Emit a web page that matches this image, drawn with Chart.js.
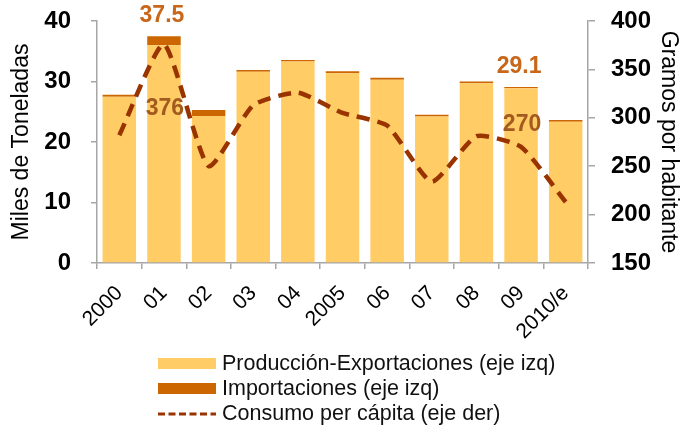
<!DOCTYPE html>
<html>
<head>
<meta charset="utf-8">
<script src="https://cdn.jsdelivr.net/npm/chart.js@4.4.0/dist/chart.umd.min.js"></script>
<style>
  body { margin: 0; background: #fff; }
  #wrap { position: relative; width: 680px; height: 429px; font-family: "Liberation Sans", Arial, sans-serif; }
  #legend { position: absolute; left: 158px; top: 351px; font-size: 21.5px; color: #111; }
  .row { display: flex; align-items: center; height: 25px; }
  .sw { width: 58px; height: 11px; margin-right: 6px; }
</style>
</head>
<body>
<div id="wrap">
  <canvas id="chart" width="680" height="429"></canvas>
  <div id="legend"></div>
</div>
<script>
let years = ["2000", "01", "02", "03", "04", "2005", "06", "07", "08", "09", "2010/e"];
let produccion = [27.5, 36.0, 24.3, 31.6, 33.3, 31.35, 30.3, 24.2, 29.7, 28.9, 23.35];
let importaciones = [0.3, 1.5, 1.0, 0.3, 0.25, 0.35, 0.3, 0.3, 0.3, 0.2, 0.3];
let consumo = [282, 376, 250, 313, 326, 305, 292, 234, 281, 270, 213];
let leftTicks = [0, 10, 20, 30, 40];
let rightTicks = [150, 200, 250, 300, 350, 400];

let labelsLeft = [{ i: 1, text: "37.5" }, { i: 9, text: "29.1" }];
let labelsRight = [{ i: 1, text: "376", dy: 64 }, { i: 9, text: "270", dy: -22 }];

let font = "'Liberation Sans', Arial, sans-serif";

let valueLabels = {
   id: "valueLabels",
   afterDatasetsDraw(chart) {
      let c = chart.ctx;
      let x = chart.scales.x, yl = chart.scales.y, yr = chart.scales.y2;
      c.save();
      c.font = "bold 23px " + font;
      c.textAlign = "center";
      c.textBaseline = "middle";
      c.fillStyle = "#C8661A";
      labelsLeft.forEach(l => {
         let total = produccion[l.i] + importaciones[l.i];
         c.fillText(l.text, x.getPixelForValue(l.i) - 2, yl.getPixelForValue(total) - 20);
      });
      c.fillStyle = "#A35A1F";
      labelsRight.forEach(l => {
         c.fillText(l.text, x.getPixelForValue(l.i) + 1, yr.getPixelForValue(consumo[l.i]) + l.dy);
      });
      c.restore();
   }
};

// keep the plot area fixed: drop the extra top/bottom padding Chart.js adds for tick labels
let fitY = width => s => { s.width = width; s.paddingTop = 0; s.paddingBottom = 0; };

let ctx = document.getElementById("chart").getContext("2d");
let chart = new Chart(ctx, {
   type: "bar",
   data: {
      labels: years,
      datasets: [
         {
            type: "line",
            label: "Consumo per cápita (eje der)",
            data: consumo,
            yAxisID: "y2",
            borderColor: "#993300",
            borderWidth: 4.5,
            borderDash: [13, 8],
            pointRadius: 0,
            tension: 0.18,
            fill: false,
            order: 0
         },
         {
            label: "Producción-Exportaciones (eje izq)",
            data: produccion,
            backgroundColor: "#FFCC66",
            yAxisID: "y",
            stack: "s",
            order: 1
         },
         {
            label: "Importaciones (eje izq)",
            data: importaciones,
            backgroundColor: "#CC6600",
            yAxisID: "y",
            stack: "s",
            order: 1
         }
      ]
   },
   options: {
      responsive: false,
      animation: false,
      devicePixelRatio: 1,
      layout: { padding: { top: 21, left: 0, right: 0, bottom: 0 } },
      datasets: { bar: { barPercentage: 0.75, categoryPercentage: 1 } },
      plugins: { legend: { display: false }, tooltip: { enabled: false } },
      scales: {
         x: {
            stacked: true,
            border: { color: "#A6A6A6", width: 1.5 },
            grid: { display: true, drawOnChartArea: false, tickLength: 6, color: "#A6A6A6", lineWidth: 1.5 },
            ticks: { color: "#000", font: { family: font, size: 21 }, minRotation: 45, maxRotation: 45, padding: 12 },
            afterFit: s => { s.height = 166; }
         },
         y: {
            position: "left",
            stacked: true,
            min: 0, max: 40,
            afterBuildTicks: s => { s.ticks = leftTicks.map(v => ({ value: v })); },
            border: { color: "#A6A6A6", width: 1.5 },
            grid: { display: true, drawOnChartArea: false, tickLength: 6, color: "#A6A6A6", lineWidth: 1.5 },
            ticks: { color: "#000", font: { family: font, size: 24, weight: "bold" }, padding: 20 },
            title: { display: true, text: "Miles de Toneladas", color: "#000", font: { family: font, size: 23, lineHeight: 1 }, padding: { top: 10 } },
            afterFit: fitY(97)
         },
         y2: {
            position: "right",
            min: 150, max: 400,
            afterBuildTicks: s => { s.ticks = rightTicks.map(v => ({ value: v })); },
            border: { color: "#A6A6A6", width: 1.5 },
            grid: { display: true, drawOnChartArea: false, tickLength: 7, color: "#A6A6A6", lineWidth: 1.5 },
            ticks: { color: "#000", font: { family: font, size: 24, weight: "bold" }, padding: 16 },
            title: { display: true, text: "Gramos por habitante", color: "#000", font: { family: font, size: 23, lineHeight: 1 }, padding: { top: 0 } },
            afterFit: fitY(92)
         }
      }
   },
   plugins: [valueLabels]
});

// legend in the same order as the reference
let legendOrder = [1, 2, 0];
let legend = document.getElementById("legend");
legendOrder.forEach(i => {
   let ds = chart.data.datasets[i];
   let row = document.createElement("div");
   row.className = "row";
   let sw;
   if (ds.type === "line") {
      sw = document.createElementNS("http://www.w3.org/2000/svg", "svg");
      sw.setAttribute("width", "58");
      sw.setAttribute("height", "11");
      sw.style.marginRight = "6px";
      sw.innerHTML = '<line x1="0" y1="6" x2="58" y2="6" stroke="' + ds.borderColor + '" stroke-width="3" stroke-dasharray="7 3.5"/>';
   } else {
      sw = document.createElement("div");
      sw.className = "sw";
      sw.style.background = ds.backgroundColor;
   }
   row.appendChild(sw);
   let t = document.createElement("span");
   t.textContent = ds.label;
   row.appendChild(t);
   legend.appendChild(row);
});
</script>
</body>
</html>
